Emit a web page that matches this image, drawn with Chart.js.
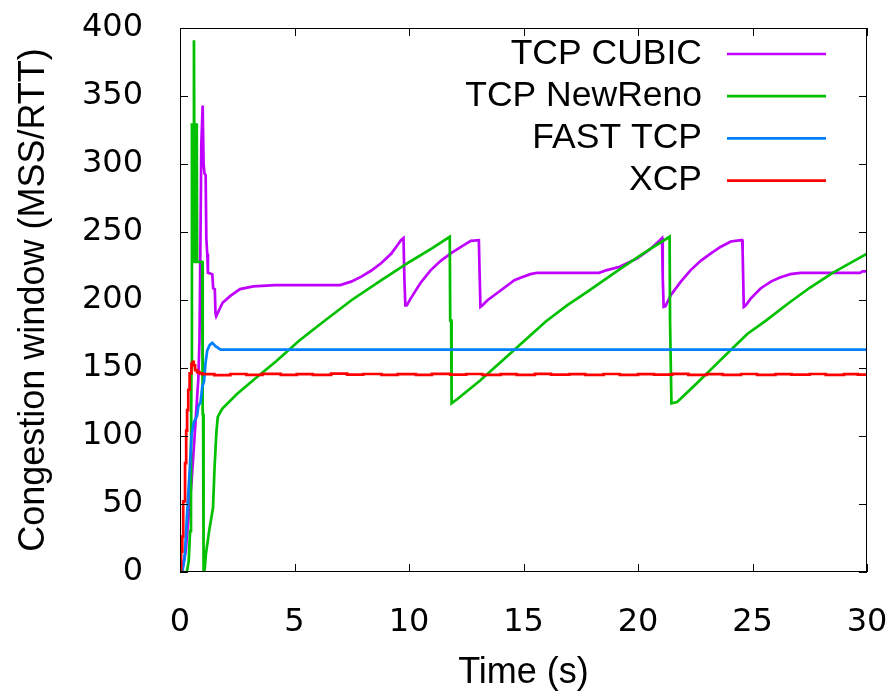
<!DOCTYPE html>
<html>
<head>
<meta charset="utf-8">
<script src="https://cdn.jsdelivr.net/npm/chart.js@4.4.1/dist/chart.umd.min.js"></script>
<style>
  html, body { margin: 0; padding: 0; background: #fff; }
</style>
</head>
<body>
<canvas id="cwnd-chart" width="890" height="695"></canvas>
<script>
// congestion window traces: time (s) / window (MSS/RTT)
const cubicT = [0, 0.12, 0.25, 0.35, 0.5, 0.65, 0.8, 0.85, 0.88, 0.93, 0.99, 1.03, 1.07, 1.12, 1.15, 1.19, 1.22, 1.41, 1.45, 1.52, 1.55, 1.58, 1.72, 1.86, 2.2, 2.62, 3.2, 4.15, 7.0, 7.47, 7.9, 8.34, 8.78, 9.22, 9.5, 9.65, 9.76, 9.8, 9.84, 9.9, 10.07, 10.5, 10.95, 11.4, 11.84, 12.27, 12.7, 13.05, 13.08, 13.12, 13.2, 13.44, 14.0, 14.6, 14.9, 15.3, 15.6, 18.3, 18.65, 19.2, 19.95, 20.5, 20.9, 21.05, 21.08, 21.12, 21.2, 21.3, 21.43, 21.87, 22.3, 22.75, 23.2, 23.6, 24.05, 24.5, 24.55, 24.57, 24.62, 24.7, 24.92, 25.35, 25.8, 26.2, 26.65, 27.1, 29.7, 29.8, 30];
const cubicW = [0, 4, 15, 36, 65, 103, 142, 170, 219, 314, 343, 300, 293, 292, 245, 234, 220, 219, 208.5, 208, 190, 188, 193, 198, 203, 208, 210, 211, 211, 213.5, 217, 221.5, 227, 234, 240.5, 244, 245.5, 215, 196, 196, 201, 212.5, 222, 229, 234.5, 239, 243.5, 244, 222, 195, 196, 200, 207, 214.5, 216.5, 219, 220, 220, 222, 224.5, 230.5, 237, 243, 245.5, 217, 195, 195.5, 199, 203.5, 213.5, 222, 229, 234.5, 239, 243, 244, 244, 235, 195, 196, 201, 208.5, 213.5, 216.5, 219, 220, 220, 221, 221];

const renoT = [0, 0.3, 0.38, 0.44, 0.48, 0.5, 0.52, 0.55, 0.58, 0.61, 0.64, 0.7, 0.73, 0.75, 0.97, 0.99, 1.01, 1.03, 1.08, 1.13, 1.28, 1.44, 1.51, 1.59, 1.65, 1.84, 2.5, 3.3, 4.2, 5.2, 6.26, 7.5, 8.78, 10.07, 11.0, 11.78, 11.8, 11.84, 11.86, 12.1, 13.12, 13.85, 14.58, 15.96, 16.9, 17.78, 19.24, 20.3, 21.38, 21.4, 21.44, 21.46, 21.71, 22.58, 23.31, 24.04, 24.77, 25.6, 26.6, 27.5, 28.5, 29.3, 30];
const renoW = [0, 0, 8, 30, 80, 150, 330, 228, 300, 391, 228, 228, 330, 228, 228, 116, 116, 0, 2, 13, 31, 47, 77, 103, 114, 120, 131, 142.5, 155, 170, 184, 200, 214.5, 228.5, 238, 246.5, 185, 185, 124, 127, 141, 152, 163, 184, 196, 206, 223, 235, 246.5, 184, 184, 124, 125, 139, 151, 163, 175, 185, 198, 209, 220, 227.5, 234];

const fastT = [0, 0.1, 0.2, 0.3, 0.43, 0.5, 0.6, 0.75, 0.8, 0.9, 0.97, 1.05, 1.11, 1.19, 1.3, 1.41, 1.55, 1.77, 30];
const fastW = [0, 0, 10, 40, 77, 100, 110, 115, 122, 125, 136, 140, 153, 163, 167, 168.5, 166, 163.5, 163.5];

const xcpT = [0, 0.05, 0.1, 0.14, 0.22, 0.27, 0.31, 0.36, 0.42, 0.5, 0.56, 0.6, 0.66, 0.75, 0.85, 0.97, 1.1, 1.5, 2.2, 2.9, 3.6, 4.4, 5.1, 5.8, 6.6, 7.3, 8.0, 8.8, 9.5, 10.3, 11.0, 11.8, 12.5, 13.2, 14.0, 14.7, 15.5, 16.2, 17.0, 17.7, 18.5, 19.2, 20.0, 20.7, 21.5, 22.2, 23.0, 23.7, 24.5, 25.2, 26.0, 26.7, 27.5, 28.2, 29.0, 29.6, 30];
const xcpW = [0, 2, 15, 26, 52, 80, 104, 119, 134, 146, 153, 154.5, 152, 148.5, 147, 146, 145.5, 145.5, 144.8, 145.6, 145.0, 145.7, 144.9, 145.5, 145.0, 145.8, 145.1, 145.6, 144.9, 145.5, 145.0, 145.7, 145.1, 145.6, 144.9, 145.5, 145.0, 145.7, 145.1, 145.5, 144.9, 145.6, 145.0, 145.5, 145.1, 145.7, 145.0, 145.5, 144.9, 145.6, 145.0, 145.5, 145.1, 145.6, 145.0, 145.5, 145.2];

const FONT = '"Liberation Sans", Arial, Helvetica, sans-serif';
const TICK_FONT = '"DejaVu Sans", "Liberation Sans", sans-serif';

function pts(ts, ws) {
    return ts.map((t, i) => ({x: t, y: ws[i]}));
}

// gnuplot-like frame: border on all sides, ticks pointing inward, key at top right
const framePlugin = {
    id: 'frame',
    afterDatasetsDraw(chart) {
        const {ctx, chartArea: a, scales: {x, y}} = chart;
        const len = 8;
        ctx.save();
        ctx.strokeStyle = '#000';
        ctx.lineWidth = 1;
        ctx.strokeRect(a.left + 0.5, a.top + 0.5, a.width - 1, a.height - 1);
        ctx.beginPath();
        x.ticks.forEach(t => {
            const px = Math.round(x.getPixelForValue(t.value)) + 0.5;
            ctx.moveTo(px, a.bottom); ctx.lineTo(px, a.bottom - len);
            ctx.moveTo(px, a.top); ctx.lineTo(px, a.top + len);
        });
        y.ticks.forEach(t => {
            const py = Math.round(y.getPixelForValue(t.value)) + 0.5;
            ctx.moveTo(a.left, py); ctx.lineTo(a.left + len, py);
            ctx.moveTo(a.right, py); ctx.lineTo(a.right - len, py);
        });
        ctx.stroke();

        ctx.font = '35.5px ' + FONT;
        ctx.textAlign = 'right';
        ctx.textBaseline = 'middle';
        chart.data.datasets.forEach((ds, i) => {
            const ly = a.top + 26 + i * 42.2;
            ctx.fillStyle = '#000';
            ctx.fillText(ds.label, a.right - 165, ly);
            ctx.strokeStyle = ds.borderColor;
            ctx.lineWidth = 2.7;
            ctx.beginPath();
            ctx.moveTo(a.right - 140, ly);
            ctx.lineTo(a.right - 41, ly);
            ctx.stroke();
        });
        ctx.restore();
    }
};

new Chart(document.getElementById('cwnd-chart').getContext('2d'), {
    type: 'line',
    data: {
        datasets: [
            {label: 'TCP CUBIC', data: pts(cubicT, cubicW), borderColor: '#c000ff', order: 3},
            {label: 'TCP NewReno', data: pts(renoT, renoW), borderColor: '#00c000', order: 2},
            {label: 'FAST TCP', data: pts(fastT, fastW), borderColor: '#0080ff', order: 1},
            {label: 'XCP', data: pts(xcpT, xcpW), borderColor: '#ff0000', order: 0, stepped: 'after'}
        ]
    },
    options: {
        responsive: false,
        animation: false,
        devicePixelRatio: 1,
        layout: {padding: {top: 28, right: 23, left: 0, bottom: 0}},
        elements: {
            line: {borderWidth: 2.7, tension: 0, fill: false},
            point: {radius: 0}
        },
        plugins: {legend: {display: false}, tooltip: {enabled: false}},
        scales: {
            x: {
                type: 'linear', min: 0, max: 30,
                grid: {display: false}, border: {display: false},
                ticks: {stepSize: 5, color: '#000', padding: 23, font: {family: TICK_FONT, size: 32}},
                title: {display: true, text: 'Time (s)', color: '#000', font: {family: FONT, size: 36}, padding: {top: 0, bottom: 0}},
                afterFit(s) {
                    s.height = 123;
                    s.paddingLeft = 0;
                    s.paddingRight = 0;
                }
            },
            y: {
                min: 0, max: 400,
                grid: {display: false}, border: {display: false},
                ticks: {stepSize: 50, color: '#000', padding: 29, font: {family: TICK_FONT, size: 32}},
                title: {display: true, text: 'Congestion window (MSS/RTT)', color: '#000', font: {family: FONT, size: 36}, padding: {top: 12, bottom: 0}},
                afterFit(s) {
                    s.width = 180;
                    s.paddingTop = 0;
                    s.paddingBottom = 0;
                }
            }
        }
    },
    plugins: [framePlugin]
});
</script>
</body>
</html>
